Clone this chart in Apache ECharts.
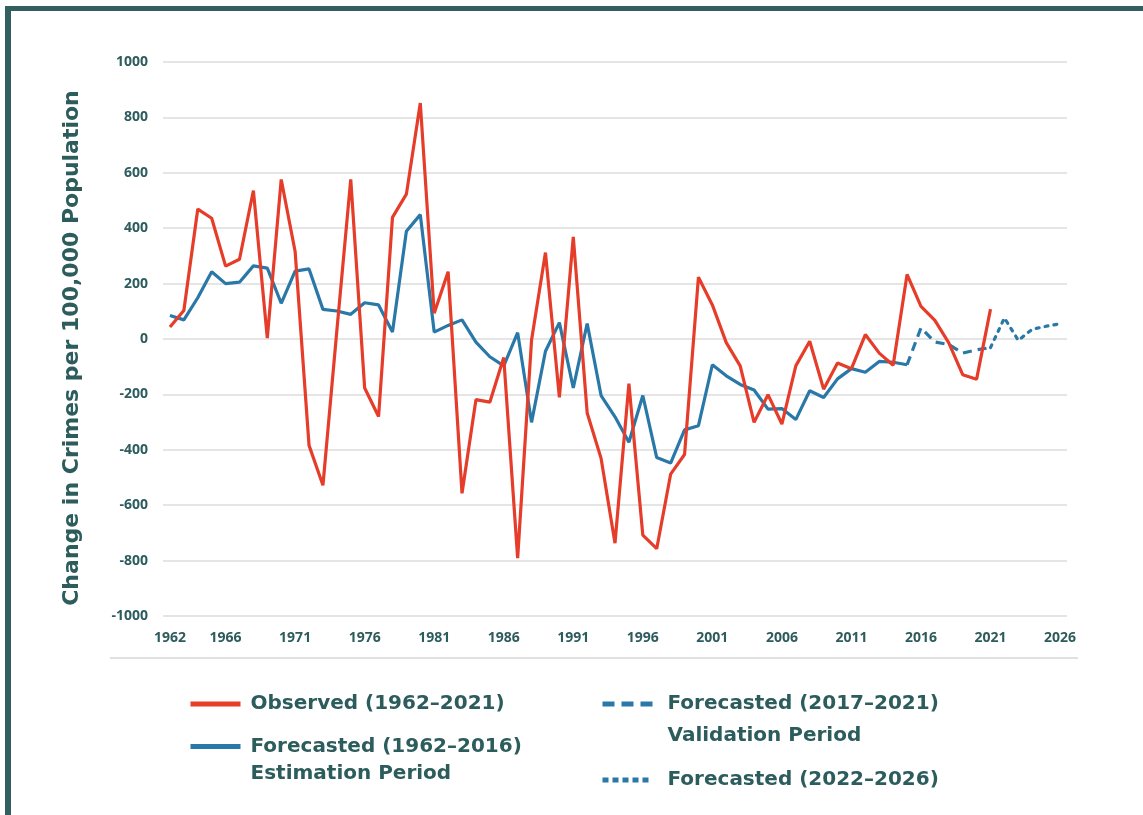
<!DOCTYPE html>
<html>
<head>
<meta charset="utf-8">
<script src="https://cdn.jsdelivr.net/npm/echarts@6/dist/echarts.min.js"></script>
<style>
  html, body { margin: 0; padding: 0; background: #fff; }
  #main { width: 1143px; height: 815px; }
</style>
</head>
<body>
<div id="main"></div>
<script>
// 年份 (类目轴)
const years = [
  '1962','1963','1964','1965','1966','1967','1968','1969','1970','1971',
  '1972','1973','1974','1975','1976','1977','1978','1979','1980','1981',
  '1982','1983','1984','1985','1986','1987','1988','1989','1990','1991',
  '1992','1993','1994','1995','1996','1997','1998','1999','2000','2001',
  '2002','2003','2004','2005','2006','2007','2008','2009','2010','2011',
  '2012','2013','2014','2015','2016','2017','2018','2019','2020','2021',
  '2022','2023','2024','2025','2026'
];
// x 轴上显示的刻度标签
const tickLabels = ['1962','1966','1971','1976','1981','1986','1991','1996','2001','2006','2011','2016','2021','2026'];

// 观测值 1962-2021
const observed = [
  43, 103, 469, 436, 263, 288, 536, 3, 576, 316,
  -384, -528, 30, 576, -177, -280, 439, 523, 852, 93,
  243, -557, -219, -228, -67, -791, -4, 312, -211, 369,
  -267, -431, -737, -161, -708, -757, -488, -417, 223, 123,
  -13, -97, -301, -201, -307, -97, -8, -181, -87, -107,
  16, -51, -95, 233, 118, 67, -14, -129, -145, 108
];
// 估计期 1962-2015
const estimation = [
  85, 69, 149, 243, 200, 205, 264, 256, 129, 245,
  253, 107, 101, 89, 131, 123, 25, 389, 449, 25,
  49, 69, -11, -64, -97, 23, -301, -44, 59, -177,
  56, -204, -281, -373, -204, -428, -448, -328, -313, -93,
  -133, -164, -184, -253, -251, -291, -187, -211, -144, -107,
  -120, -81, -84, -93
];
// 验证期 2015-2021
const validationYears = ['2015','2016','2017','2018','2019','2020','2021'];
const validation = [-93, 40, -11, -20, -51, -39, -31];
// 预测 2021-2026
const forecastYears = ['2021','2022','2023','2024','2025','2026'];
const forecast = [-31, 76, -5, 35, 46, 55];

const teal = '#2d5c5d';
const red = '#e63d2a';
const blue = '#2a78a8';

// 按年份对齐
function align(ys, vals) {
  return years.map(y => {
    let i = ys.indexOf(y);
    return i >= 0 ? vals[i] : null;
  });
}

const names = {
  obs: 'Observed (1962–2021)',
  est: 'Forecasted (1962–2016)',
  val: 'Forecasted (2017–2021)',
  fc: 'Forecasted (2022–2026)'
};
const subLine = {};
subLine[names.est] = 'Estimation Period';
subLine[names.val] = 'Validation Period';

let chart = echarts.init(document.getElementById('main'));

// 单个图例 (两列布局, 多行文字时图标对齐第一行)
function legendItem(name, left, top, lh, gap, dash) {
  return {
    data: [name],
    left: left,
    top: top,
    itemWidth: 50,
    itemHeight: 14,
    itemGap: 0,
    selectedMode: false,
    itemStyle: { opacity: 0 },
    lineStyle: { width: 5, type: dash, cap: 'butt' },
    textStyle: {
      color: teal,
      fontSize: 20,
      fontWeight: 'bold',
      fontFamily: 'DejaVu Sans',
      lineHeight: lh,
      padding: [0, 0, 0, gap]
    },
    formatter: n => subLine[n] ? '\n' + n + '\n' + subLine[n] : n
  };
}

let option = {
  animation: false,
  graphic: [
    // 外框
    { type: 'rect', left: 5, top: 6, shape: { width: 6, height: 809 }, style: { fill: '#335f60' } },
    { type: 'rect', left: 5, top: 6, shape: { width: 1138, height: 5 }, style: { fill: '#335f60' } },
    // x 轴标签下方的线
    { type: 'line', shape: { x1: 110, y1: 658, x2: 1078, y2: 658 }, style: { stroke: '#e0e0e0', lineWidth: 2 } }
  ],
  legend: [
    legendItem(names.obs, 183, 687, 24, 5, 'solid'),
    legendItem(names.est, 183, 701, 27, 5, 'solid'),
    legendItem(names.val, 595, 651, 32, 10, [12, 7]),
    legendItem(names.fc, 595, 763, 24, 10, [6, 4])
  ],
  grid: {
    left: 163,
    right: 76,
    top: 62,
    bottom: 199
  },
  xAxis: {
    type: 'category',
    data: years,
    boundaryGap: true,
    axisLine: { show: false },
    axisTick: { show: false },
    axisLabel: {
      interval: (idx, val) => tickLabels.indexOf(val) >= 0,
      margin: 15,
      color: teal,
      fontSize: 14,
      fontWeight: 'bold',
      fontFamily: 'Open Sans'
    }
  },
  yAxis: {
    type: 'value',
    min: -1000,
    max: 1000,
    interval: 200,
    name: 'Change in Crimes per 100,000 Population',
    nameLocation: 'middle',
    nameGap: 80,
    nameTextStyle: {
      color: teal,
      fontSize: 22,
      fontWeight: 'bold',
      fontFamily: 'DejaVu Sans',
      padding: [0, 18, 0, 0]
    },
    axisLabel: {
      margin: 15,
      color: teal,
      fontSize: 14,
      fontWeight: 'bold',
      fontFamily: 'Open Sans',
      formatter: v => String(v)
    },
    splitLine: { lineStyle: { color: '#dcdcdc', width: 1.5 } }
  },
  series: [
    {
      name: names.obs,
      type: 'line',
      data: observed,
      symbol: 'none',
      lineStyle: { color: red, width: 3.2 },
      itemStyle: { color: red },
      z: 3
    },
    {
      name: names.est,
      type: 'line',
      data: estimation,
      symbol: 'none',
      lineStyle: { color: blue, width: 3.2 },
      itemStyle: { color: blue },
      z: 2
    },
    {
      name: names.val,
      type: 'line',
      data: align(validationYears, validation),
      symbol: 'none',
      lineStyle: { color: blue, width: 3.2, type: [9, 6] },
      itemStyle: { color: blue },
      z: 2
    },
    {
      name: names.fc,
      type: 'line',
      data: align(forecastYears, forecast),
      symbol: 'none',
      lineStyle: { color: blue, width: 3.2, type: [3, 6], cap: 'round' },
      itemStyle: { color: blue },
      z: 2
    }
  ]
};
chart.setOption(option);
</script>
</body>
</html>
